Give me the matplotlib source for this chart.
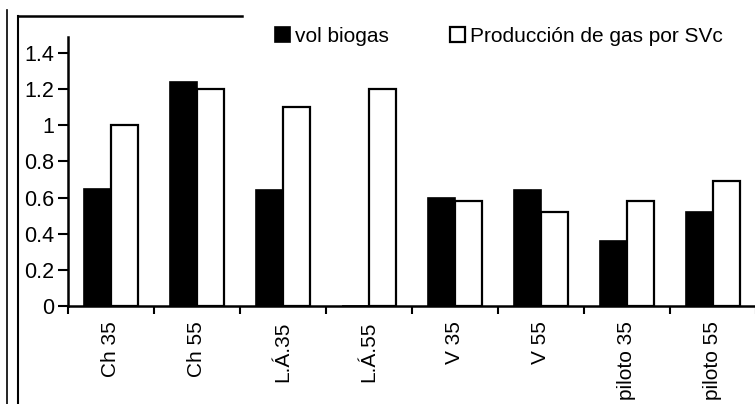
import matplotlib

matplotlib.use("Agg", force=True)
import matplotlib.pyplot as plt
from matplotlib.lines import Line2D
import numpy as np

categories = ["Ch 35", "Ch 55", "L.Á.35", "L.Á.55", "V 35", "V 55", "piloto 35", "piloto 55"]
vol_biogas = [0.65, 1.24, 0.64, 0.0, 0.60, 0.64, 0.36, 0.52]
produccion_svc = [1.0, 1.2, 1.1, 1.2, 0.58, 0.52, 0.58, 0.69]
y_ticks = [0, 0.2, 0.4, 0.6, 0.8, 1, 1.2, 1.4]
y_tick_labels = ["0", "0.2", "0.4", "0.6", "0.8", "1", "1.2", "1.4"]

plt.rcParams["font.family"] = ["Liberation Sans", "DejaVu Sans"]
plt.rcParams["font.size"] = 15

fig = plt.figure(figsize=(7.55, 4.04), dpi=100)
W, H = 755, 404
ax = fig.add_axes([68 / W, 1 - 306 / H, (756 - 68) / W, (306 - 37) / H])

x = np.arange(len(categories)) + 0.5
width = 0.31
ax.bar(x - width / 2, vol_biogas, width, color="black", edgecolor="black",
       linewidth=1.2, label="vol biogas")
ax.bar(x + width / 2, produccion_svc, width, color="white", edgecolor="black",
       linewidth=1.6, label="Producción de gas por SVc")

ax.set_xlim(0, len(categories))
ax.set_ylim(0, 1.489)
ax.set_yticks(y_ticks)
ax.set_yticklabels(y_tick_labels, fontsize=15.5)
ax.set_xticks(np.arange(len(categories) + 1))
ax.set_xticklabels([])
ax.set_xticks(x, minor=True)
ax.set_xticklabels(categories, minor=True, rotation=90, va="top", ha="center")
ax.tick_params(axis="x", which="major", direction="out", length=6, width=1.5)
ax.tick_params(axis="x", which="minor", length=0, pad=11)
ax.tick_params(axis="y", direction="out", length=7, width=1.5, pad=3)

for side in ("top", "right"):
    ax.spines[side].set_visible(False)
for side in ("left", "bottom"):
    ax.spines[side].set_linewidth(1.8)

ax.legend(loc="upper left", bbox_to_anchor=((267 - 68) / (756 - 68), 1.068), ncol=2,
          frameon=False, handlelength=0.7, handleheight=0.7, handletextpad=0.25,
          columnspacing=2.95, borderaxespad=0, fontsize=15)

# outer frame lines of the scanned figure
fig.add_artist(Line2D([7 / W, 7 / W], [1 - 10 / H, 0], color="black", linewidth=1.2))
fig.add_artist(Line2D([18 / W, 18 / W], [1 - 16 / H, 0], color="black", linewidth=1.5))
fig.add_artist(Line2D([18 / W, 242 / W], [1 - 16 / H, 1 - 16 / H], color="black", linewidth=1.8))

fig.savefig("out.png", dpi=100)
